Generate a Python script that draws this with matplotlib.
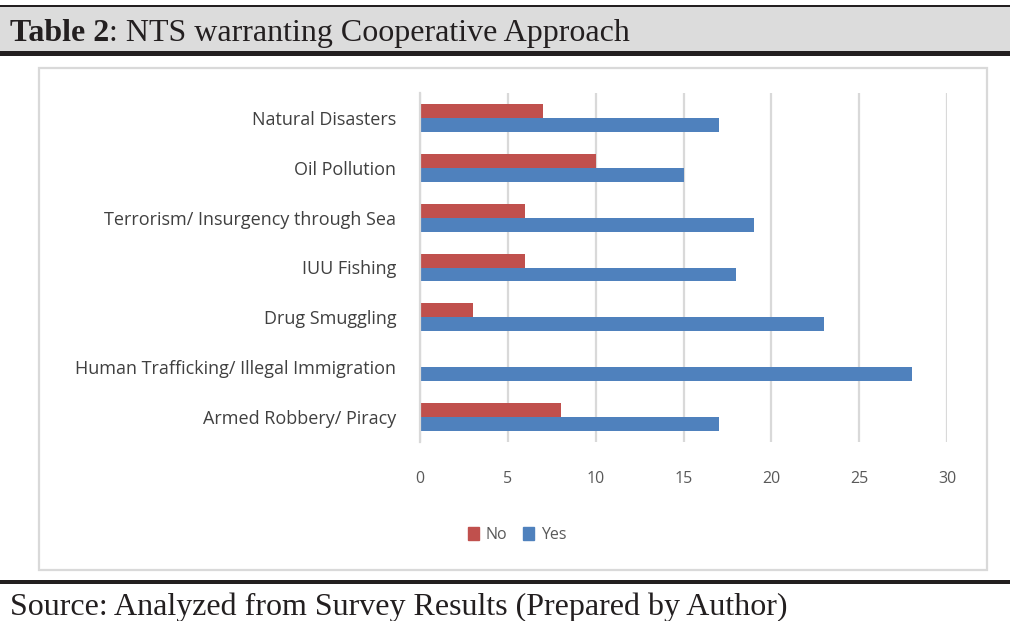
import matplotlib

matplotlib.use("Agg")
import matplotlib.pyplot as plt
from matplotlib.patches import Rectangle, Patch

W, H = 1010, 621

categories = [
    "Natural Disasters",
    "Oil Pollution",
    "Terrorism/ Insurgency through Sea",
    "IUU Fishing",
    "Drug Smuggling",
    "Human Trafficking/ Illegal Immigration",
    "Armed Robbery/ Piracy",
]
no_values = [7, 10, 6, 6, 3, 0, 8]
yes_values = [17, 15, 19, 18, 23, 28, 17]
x_ticks = [0, 5, 10, 15, 20, 25, 30]

RED = "#C0504D"
BLUE = "#4F81BD"
GRID = "#d9d9d9"
DARK = "#231f20"
SERIF = ["Liberation Serif", "DejaVu Serif"]
SANS = ["Open Sans", "DejaVu Sans"]


def fx(px):
    return px / W


def fy(py):
    return 1 - py / H


def band(x0, y0, x1, y1, **kw):
    fig.patches.append(
        Rectangle((fx(x0), fy(y1)), fx(x1) - fx(x0), fy(y0) - fy(y1),
                  transform=fig.transFigure, figure=fig, **kw)
    )


fig = plt.figure(figsize=(W / 100, H / 100), dpi=100)

# header and footer rules
band(0, 5.5, W, 7, color=DARK, lw=0)
band(0, 7, W, 51, color="#dcdcdc", lw=0)
band(0, 51, W, 55.5, color=DARK, lw=0)
band(0, 579.5, W, 584, color=DARK, lw=0)
# chart frame, kept below the axes
band(39, 68, 987, 570, facecolor="white", edgecolor=GRID, lw=1.6, zorder=-1)

t1 = fig.text(fx(10), fy(41), "Table 2", family=SERIF, fontweight="bold",
              fontsize=23, color=DARK, va="baseline")
renderer = fig.canvas.get_renderer()
bb = t1.get_window_extent(renderer)
fig.text(bb.x1 / W, fy(41), ": NTS warranting Cooperative Approach",
         family=SERIF, fontsize=23, color=DARK, va="baseline")
fig.text(fx(10), fy(615), "Source: Analyzed from Survey Results (Prepared by Author)",
         family=SERIF, fontsize=23, color=DARK, va="baseline")

ax = fig.add_axes([fx(420), fy(442), (947 - 420) / W, (442 - 93) / H])
ax.patch.set_alpha(0)
ypos = list(range(len(categories)))
bh = 0.28
ax.barh([y - bh / 2 for y in ypos], no_values, height=bh, color=RED, label="No")
ax.barh([y + bh / 2 for y in ypos], yes_values, height=bh, color=BLUE, label="Yes")
ax.set_ylim(len(categories) - 0.5, -0.5)
ax.set_xlim(0, 30)
ax.set_xticks(x_ticks)
ax.set_yticks(ypos)
ax.set_yticklabels(categories)
ax.grid(axis="x", color=GRID, lw=1.6)
ax.set_axisbelow(True)
for side in ("top", "right", "bottom"):
    ax.spines[side].set_visible(False)
ax.spines["left"].set_color(GRID)
ax.spines["left"].set_linewidth(1.6)
ax.tick_params(axis="x", length=0, pad=21, labelsize=11.5, labelcolor="#595959")
ax.tick_params(axis="y", length=0, pad=17, labelsize=13, labelcolor="#404040")
for lbl in ax.get_xticklabels() + ax.get_yticklabels():
    lbl.set_family(SANS)

handles = [Patch(color=RED), Patch(color=BLUE)]
fig.legend(handles, ["No", "Yes"], loc="center", bbox_to_anchor=(fx(517), fy(535)),
           ncol=2, frameon=False, handlelength=0.7, handleheight=0.9,
           handletextpad=0.4, columnspacing=1.0,
           prop={"family": SANS, "size": 11.5}, labelcolor="#595959")

fig.savefig("out.png", dpi=100)
